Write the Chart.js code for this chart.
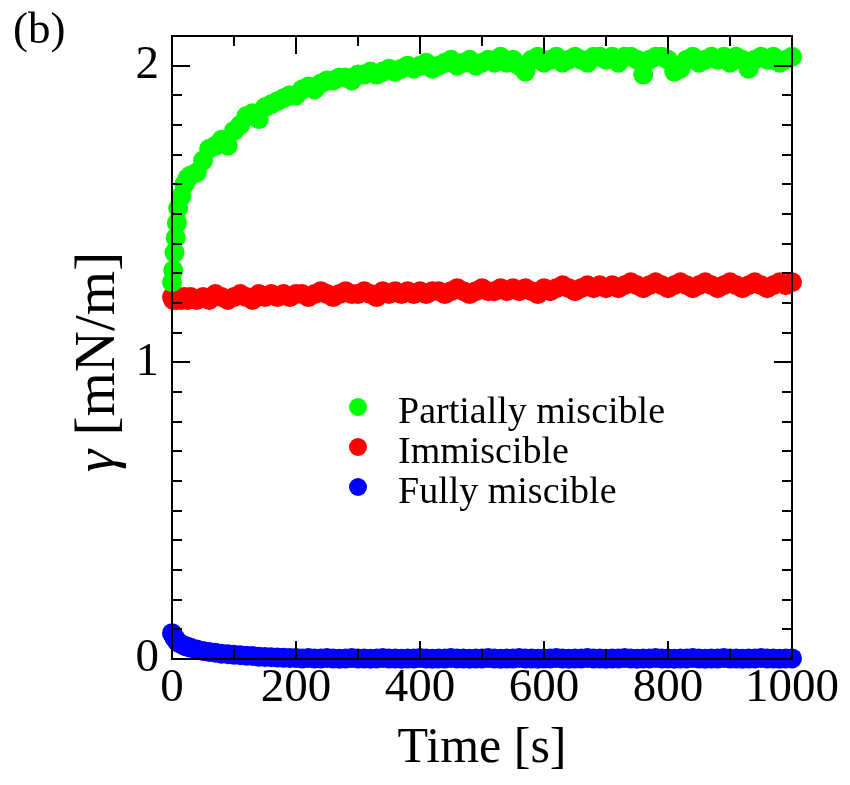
<!DOCTYPE html>
<html>
<head>
<meta charset="utf-8">
<script src="https://cdn.jsdelivr.net/npm/chart.js@4.4.1/dist/chart.umd.min.js"></script>
<style>
  html, body { margin: 0; padding: 0; background: #fff; }
  #wrap { width: 850px; height: 785px; }
</style>
</head>
<body>
<div id="wrap"><canvas id="chart" width="850" height="785"></canvas></div>
<script>
// time axis [s]
const times = [0, 2, 4, 6, 8, 10, 15, 20, 25, 30,
  40, 50, 60, 70, 80, 90, 100, 110, 120, 130,
  140, 150, 160, 170, 180, 190, 200, 210, 220, 230,
  240, 250, 260, 270, 280, 290, 300, 310, 320, 330,
  340, 350, 360, 370, 380, 390, 400, 410, 420, 430,
  440, 450, 460, 470, 480, 490, 500, 510, 520, 530,
  540, 550, 560, 570, 580, 590, 600, 610, 620, 630,
  640, 650, 660, 670, 680, 690, 700, 710, 720, 730,
  740, 750, 760, 770, 780, 790, 800, 810, 820, 830,
  840, 850, 860, 870, 880, 890, 900, 910, 920, 930,
  940, 950, 960, 970, 980, 990, 1000];

// interfacial tension [mN/m]
const partiallyMiscible = [1.27, 1.31, 1.37, 1.42, 1.47, 1.52, 1.56, 1.60, 1.62, 1.63,
  1.64, 1.68, 1.72, 1.73, 1.75, 1.73, 1.78, 1.80, 1.83, 1.84,
  1.82, 1.86, 1.87, 1.88, 1.89, 1.90, 1.90, 1.92, 1.93, 1.92,
  1.94, 1.95, 1.95, 1.96, 1.96, 1.95, 1.97, 1.97, 1.98, 1.97,
  1.98, 1.99, 1.98, 1.99, 2.00, 1.99, 2.00, 2.01, 1.99, 2.00,
  2.01, 2.02, 2.00, 2.01, 2.02, 2.00, 2.01, 2.02, 2.01, 2.03,
  2.01, 2.02, 2.00, 1.98, 2.02, 2.03, 2.01, 2.02, 2.03, 2.01,
  2.02, 2.03, 2.02, 2.01, 2.03, 2.03, 2.02, 2.03, 2.01, 2.03,
  2.03, 2.02, 1.97, 2.02, 2.03, 2.03, 2.02, 1.98, 1.99, 2.02,
  2.03, 2.01, 2.02, 2.03, 2.02, 2.03, 2.01, 2.03, 2.02, 1.99,
  2.02, 2.03, 2.02, 2.03, 2.01, 2.02, 2.03];

const immiscible = [1.22, 1.21, 1.22, 1.22, 1.21, 1.22, 1.21, 1.22, 1.21, 1.22,
  1.21, 1.22, 1.21, 1.23, 1.22, 1.21, 1.22, 1.23, 1.22, 1.21,
  1.23, 1.22, 1.23, 1.22, 1.23, 1.22, 1.23, 1.23, 1.22, 1.23,
  1.24, 1.23, 1.22, 1.23, 1.24, 1.23, 1.23, 1.24, 1.23, 1.22,
  1.24, 1.23, 1.24, 1.23, 1.24, 1.23, 1.24, 1.23, 1.24, 1.24,
  1.23, 1.24, 1.25, 1.24, 1.23, 1.24, 1.25, 1.24, 1.24, 1.25,
  1.24, 1.25, 1.24, 1.25, 1.24, 1.23, 1.25, 1.24, 1.25, 1.26,
  1.25, 1.24, 1.25, 1.26, 1.25, 1.26, 1.25, 1.26, 1.25, 1.26,
  1.27, 1.26, 1.25, 1.26, 1.27, 1.26, 1.25, 1.26, 1.27, 1.26,
  1.25, 1.26, 1.27, 1.26, 1.25, 1.26, 1.27, 1.26, 1.25, 1.26,
  1.27, 1.26, 1.25, 1.26, 1.27, 1.26, 1.27];

const fullyMiscible = [0.087, 0.080, 0.072, 0.066, 0.060, 0.056, 0.050, 0.045, 0.041, 0.038,
  0.032, 0.027, 0.024, 0.021, 0.018, 0.016, 0.014, 0.013, 0.011, 0.010,
  0.008, 0.007, 0.006, 0.005, 0.004, 0.003, 0.003, 0.002, 0.003, 0.002,
  0.002, 0.003, 0.002, 0.001, 0.002, 0.003, 0.002, 0.002, 0.001, 0.002,
  0.003, 0.002, 0.002, 0.001, 0.002, 0.002, 0.003, 0.002, 0.001, 0.002,
  0.002, 0.003, 0.002, 0.002, 0.001, 0.002, 0.002, 0.003, 0.002, 0.001,
  0.002, 0.002, 0.003, 0.002, 0.002, 0.001, 0.002, 0.002, 0.003, 0.002,
  0.001, 0.002, 0.002, 0.003, 0.002, 0.002, 0.001, 0.002, 0.002, 0.003,
  0.002, 0.001, 0.002, 0.002, 0.003, 0.002, 0.002, 0.001, 0.002, 0.002,
  0.003, 0.002, 0.001, 0.002, 0.002, 0.003, 0.002, 0.002, 0.001, 0.002,
  0.002, 0.003, 0.002, 0.002, 0.001, 0.002, 0.002];

const seriesLabels = ['Partially miscible', 'Immiscible', 'Fully miscible'];
const seriesColors = ['#00ff00', '#ff0000', '#0000ff'];
const xMajorTicks = [0, 200, 400, 600, 800, 1000];
const yMajorTicks = [0, 1, 2];

const SERIF = '"Liberation Serif", "Times New Roman", serif';

function toPoints(vals) {
  return times.map((t, i) => ({ x: t, y: vals[i] }));
}

// frame, inward ticks, y title, panel letter and legend
const decorations = {
  id: 'decorations',
  afterDraw(chart) {
    const ctx = chart.ctx;
    const { left, right, top, bottom } = chart.chartArea;
    const xs = chart.scales.x, ys = chart.scales.y;
    ctx.save();
    ctx.strokeStyle = '#000';
    ctx.lineWidth = 2;
    ctx.strokeRect(left, top, right - left, bottom - top);

    ctx.beginPath();
    xs.ticks.forEach(tk => {
      const v = tk.value;
      if (v <= xs.min || v >= xs.max) return;
      const px = Math.round(xs.getPixelForValue(v));
      const len = xMajorTicks.includes(v) ? 18 : 10;
      ctx.moveTo(px, bottom); ctx.lineTo(px, bottom - len);
      ctx.moveTo(px, top); ctx.lineTo(px, top + len);
    });
    ys.ticks.forEach(tk => {
      const v = tk.value;
      if (v <= ys.min + 1e-6 || v >= ys.max - 1e-6) return;
      const py = Math.round(ys.getPixelForValue(v));
      const major = yMajorTicks.some(m => Math.abs(m - v) < 1e-6);
      const len = major ? 18 : 10;
      ctx.moveTo(left, py); ctx.lineTo(left + len, py);
      ctx.moveTo(right, py); ctx.lineTo(right - len, py);
    });
    ctx.stroke();

    // y axis title with italic gamma
    ctx.fillStyle = '#000';
    ctx.translate(114, 362);
    ctx.rotate(-Math.PI / 2);
    ctx.textBaseline = 'alphabetic';
    ctx.textAlign = 'left';
    const fItal = 'italic 57px ' + SERIF;
    const fReg = '57px ' + SERIF;
    ctx.font = fItal;
    const wG = ctx.measureText('γ').width;
    ctx.font = fReg;
    const rest = ' [mN/m]';
    const wR = ctx.measureText(rest).width;
    const x0 = -(wG + wR) / 2;
    ctx.font = fItal;
    ctx.fillText('γ', x0, 0);
    ctx.font = fReg;
    ctx.fillText(rest, x0 + wG, 0);
    ctx.restore();

    ctx.save();
    ctx.fillStyle = '#000';
    ctx.font = '45px ' + SERIF;
    ctx.textBaseline = 'alphabetic';
    ctx.fillText('(b)', 13, 43);

    // legend
    ctx.font = '38px ' + SERIF;
    chart.data.datasets.forEach((ds, i) => {
      const cy = 407 + i * 40;
      ctx.fillStyle = ds.backgroundColor;
      ctx.beginPath();
      ctx.arc(358, cy, 9, 0, Math.PI * 2);
      ctx.fill();
      ctx.fillStyle = '#000';
      ctx.fillText(ds.label, 398, cy + 16);
    });
    ctx.restore();
  }
};

new Chart(document.getElementById('chart'), {
  type: 'scatter',
  data: {
    datasets: [
      { label: seriesLabels[0], data: toPoints(partiallyMiscible), backgroundColor: seriesColors[0] },
      { label: seriesLabels[1], data: toPoints(immiscible), backgroundColor: seriesColors[1] },
      { label: seriesLabels[2], data: toPoints(fullyMiscible), backgroundColor: seriesColors[2] }
    ]
  },
  options: {
    responsive: false,
    animation: false,
    clip: false,
    layout: { padding: { left: 0, top: 36, right: 58, bottom: 0 } },
    elements: { point: { radius: 10, borderWidth: 0, hoverRadius: 10 } },
    plugins: { legend: { display: false }, tooltip: { enabled: false } },
    scales: {
      x: {
        type: 'linear', min: 0, max: 1000,
        grid: { display: false, drawTicks: false },
        border: { display: false },
        afterFit(scale) {
          scale.height = 126;
          scale.paddingLeft = 0;
          scale.paddingRight = 0;
        },
        ticks: {
          stepSize: 100, autoSkip: false, maxRotation: 0, padding: 1,
          color: '#000', font: { family: SERIF, size: 47 },
          callback: v => (xMajorTicks.includes(v) ? String(v) : '')
        },
        title: { display: true, text: 'Time [s]', color: '#000', font: { family: SERIF, size: 50 }, padding: { top: 0, bottom: 6 } }
      },
      y: {
        type: 'linear', min: 0, max: 2.1,
        grid: { display: false, drawTicks: false },
        border: { display: false },
        afterFit(scale) {
          scale.width = 172;
          scale.paddingTop = 0;
          scale.paddingBottom = 0;
        },
        ticks: {
          stepSize: 0.1, autoSkip: false, padding: 13,
          color: '#000', font: { family: SERIF, size: 47 },
          callback: v => {
            const m = yMajorTicks.find(t => Math.abs(t - v) < 1e-6);
            return m === undefined ? '' : String(m);
          }
        }
      }
    }
  },
  plugins: [decorations]
});
</script>
</body>
</html>
